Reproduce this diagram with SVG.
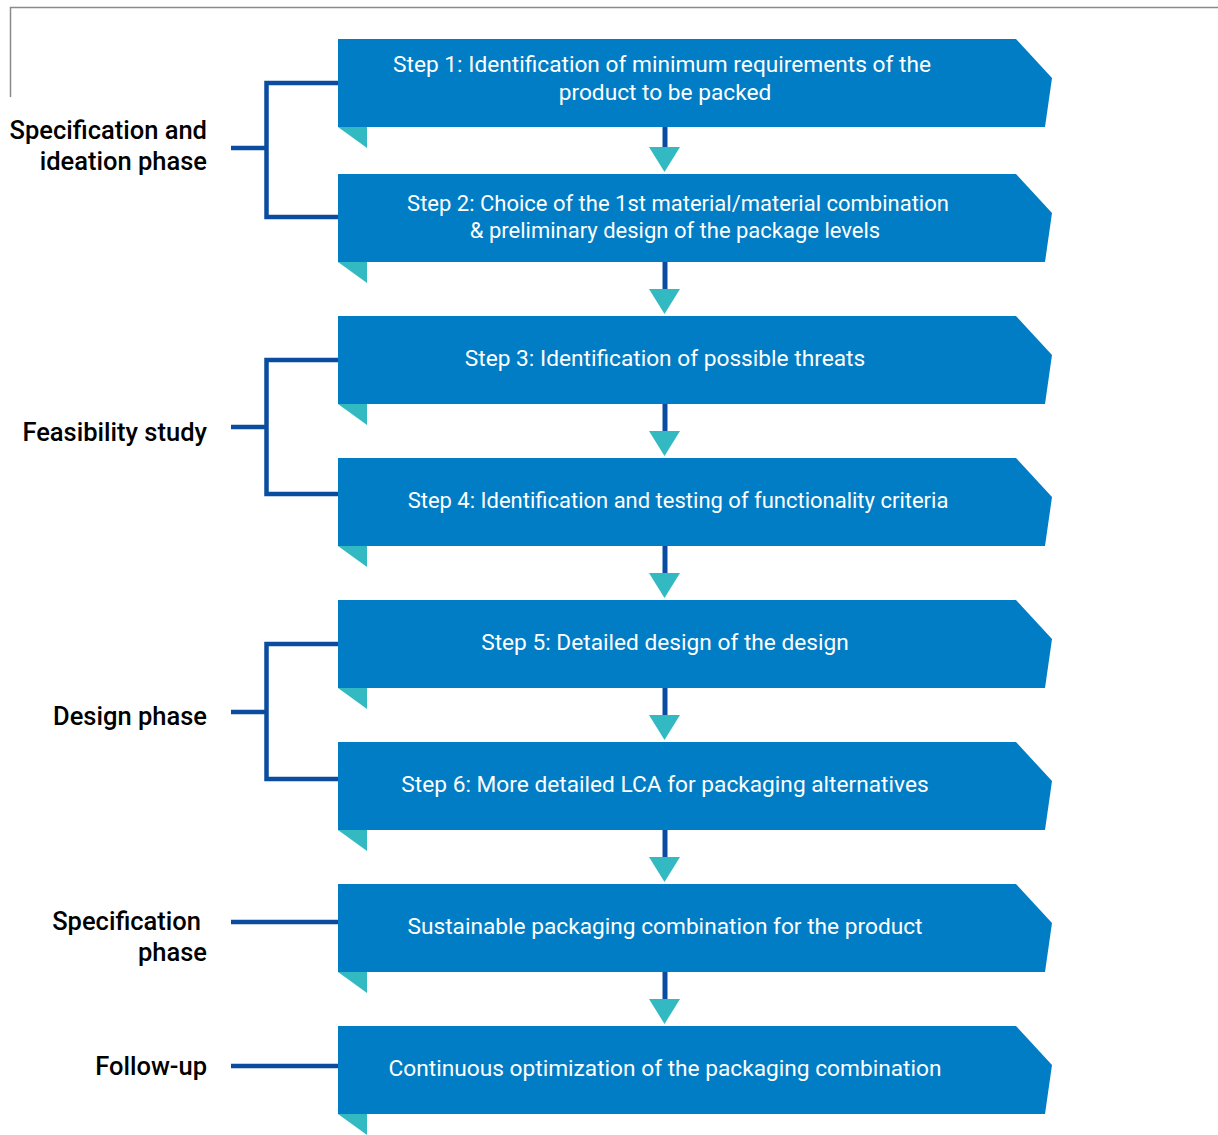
<svg xmlns="http://www.w3.org/2000/svg" width="1218" height="1135" viewBox="0 0 1218 1135">
<defs>
<style>
.box{fill:#007DC5}
.fold{fill:#33B9C1}
.bt{font-family:Roboto,"Liberation Sans",sans-serif;font-size:22.7px;fill:#ffffff;text-anchor:middle}
.sm{font-size:22px}
.lb{font-family:Roboto,"Liberation Sans",sans-serif;font-size:25.5px;font-weight:500;fill:#000000;text-anchor:end}
.br{fill:none;stroke:#0A4DA0;stroke-width:4.5}
.ln{stroke:#0A4DA0;stroke-width:5}
.ah{fill:#33B9C1}
</style>
<path id="shape" d="M0 0H678L714 39L707 88H0Z"/>
<path id="foldp" d="M0 0H29V21Z"/>
</defs>
<rect width="1218" height="1135" fill="#ffffff"/>
<path d="M10.5 97V7.5H1218" fill="none" stroke="#8a8a8a" stroke-width="1.5"/>

<g id="connectors">
<path class="br" d="M338 83H266.5V217H338M231 148H266.5"/>
<path class="br" d="M338 360H266.5V494H338M231 427H266.5"/>
<path class="br" d="M338 644H266.5V779H338M231 712H266.5"/>
<path class="br" d="M231 922H338"/>
<path class="br" d="M231 1066H338"/>
<line class="ln" x1="665" y1="127" x2="665" y2="150"/>
<path class="ah" d="M649 147H680L664.5 172Z"/>
<line class="ln" x1="665" y1="262" x2="665" y2="292"/>
<path class="ah" d="M649 289H680L664.5 314Z"/>
<line class="ln" x1="665" y1="404" x2="665" y2="434"/>
<path class="ah" d="M649 431H680L664.5 456Z"/>
<line class="ln" x1="665" y1="546" x2="665" y2="576"/>
<path class="ah" d="M649 573H680L664.5 598Z"/>
<line class="ln" x1="665" y1="688" x2="665" y2="718"/>
<path class="ah" d="M649 715H680L664.5 740Z"/>
<line class="ln" x1="665" y1="830" x2="665" y2="860"/>
<path class="ah" d="M649 857H680L664.5 882Z"/>
<line class="ln" x1="665" y1="972" x2="665" y2="1002"/>
<path class="ah" d="M649 999H680L664.5 1024Z"/>
</g>

<g id="label-spec-ideation"><text class="lb" x="207" y="139">Specification and</text><text class="lb" x="207" y="170">ideation phase</text></g>
<g id="label-feasibility"><text class="lb" x="207" y="441">Feasibility study</text></g>
<g id="label-design"><text class="lb" x="207" y="725">Design phase</text></g>
<g id="label-spec"><text class="lb" x="201" y="930">Specification</text><text class="lb" x="207" y="961">phase</text></g>
<g id="label-follow"><text class="lb" x="207" y="1075">Follow-up</text></g>

<g id="step1"><use href="#shape" x="338" y="39" class="box"/><use href="#foldp" x="338" y="127" class="fold"/>
<text class="bt" x="662" y="72">Step 1: Identification of minimum requirements of the</text><text class="bt" x="665" y="100">product to be packed</text></g>
<g id="step2"><use href="#shape" x="338" y="174" class="box"/><use href="#foldp" x="338" y="262" class="fold"/>
<text class="bt sm" x="678" y="211">Step 2: Choice of the 1st material/material combination</text><text class="bt sm" x="675" y="238">&amp; preliminary design of the package levels</text></g>
<g id="step3"><use href="#shape" x="338" y="316" class="box"/><use href="#foldp" x="338" y="404" class="fold"/>
<text class="bt" x="665" y="366">Step 3: Identification of possible threats</text></g>
<g id="step4"><use href="#shape" x="338" y="458" class="box"/><use href="#foldp" x="338" y="546" class="fold"/>
<text class="bt sm" x="678" y="508">Step 4: Identification and testing of functionality criteria</text></g>
<g id="step5"><use href="#shape" x="338" y="600" class="box"/><use href="#foldp" x="338" y="688" class="fold"/>
<text class="bt" x="665" y="650">Step 5: Detailed design of the design</text></g>
<g id="step6"><use href="#shape" x="338" y="742" class="box"/><use href="#foldp" x="338" y="830" class="fold"/>
<text class="bt" x="665" y="792">Step 6: More detailed LCA for packaging alternatives</text></g>
<g id="step7"><use href="#shape" x="338" y="884" class="box"/><use href="#foldp" x="338" y="972" class="fold"/>
<text class="bt" x="665" y="934">Sustainable packaging combination for the product</text></g>
<g id="step8"><use href="#shape" x="338" y="1026" class="box"/><use href="#foldp" x="338" y="1114" class="fold"/>
<text class="bt" x="665" y="1076">Continuous optimization of the packaging combination</text></g>
</svg>
